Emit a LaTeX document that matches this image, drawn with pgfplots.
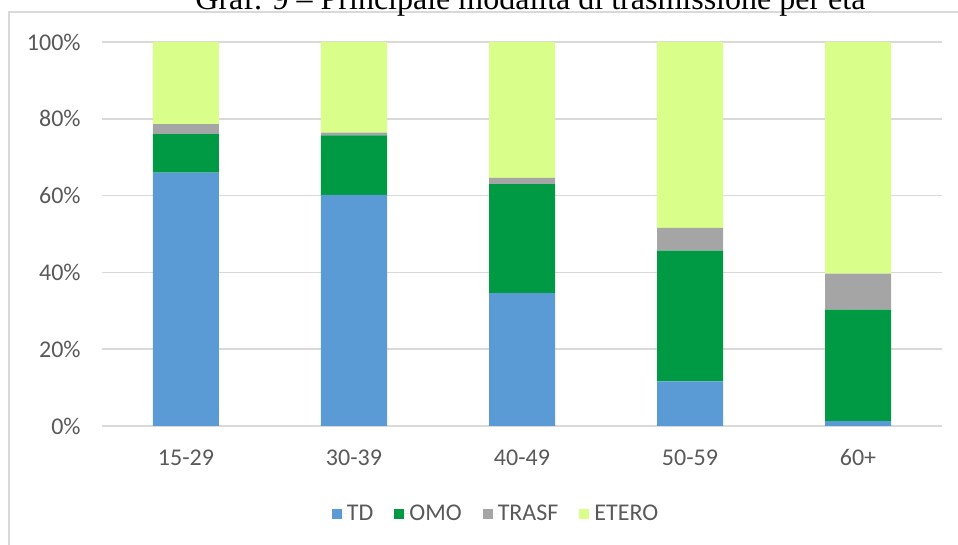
\documentclass[border=0pt]{standalone}
\usepackage{fontspec}
\setmainfont{Carlito}
\newfontfamily\titlefont{Liberation Serif}
\usepackage{pgfplots}
\usepackage{pgfplotstable}
\pgfplotsset{compat=1.18}

\definecolor{cTD}{HTML}{5B9BD5}
\definecolor{cOMO}{HTML}{009944}
\definecolor{cTRASF}{HTML}{A5A5A5}
\definecolor{cETERO}{HTML}{D9FF8A}
\definecolor{gridgray}{HTML}{D9D9D9}
\definecolor{labelgray}{HTML}{595959}

% Share (%) of each transmission mode by age group
\pgfplotstableread{
grp TD   OMO  TRASF ETERO
0   66.0 10.0 2.6   21.4
1   60.2 15.5 0.7   23.6
2   34.6 28.4 1.6   35.4
3   11.6 34.1 5.9   48.4
4   1.3  29.0 9.4   60.3
}\datatable

\begin{document}
\begin{tikzpicture}
\path[use as bounding box] (-51pt,-59.5pt) rectangle (428pt,213pt);
% chart frame
\draw[gridgray, line width=0.75pt] (-46.5pt,-80pt) -- (-46.5pt,207pt) -- (440pt,207pt);
% caption
\node[anchor=base west, inner sep=0pt, font=\titlefont\fontsize{16}{19}\selectfont]
  at (46.5pt,208.25pt) {Graf. 9 – Principale modalità di trasmissione per età};
\begin{axis}[
  at={(0pt,0pt)}, anchor=south west,
  scale only axis, width=420pt, height=192pt,
  ybar stacked, bar width=33pt,
  xmin=-0.5, xmax=4.5, ymin=0, ymax=100,
  xtick={0,1,2,3,4},
  xticklabels={15-29,30-39,40-49,50-59,60+},
  ytick={0,20,40,60,80,100},
  yticklabels={0\%,20\%,40\%,60\%,80\%,100\%},
  axis line style={draw=none},
  major tick length=0pt,
  ymajorgrids, major grid style={gridgray, line width=0.75pt},
  ticklabel style={font=\fontsize{12}{14}\selectfont, text=labelgray},
  yticklabel style={anchor=east, inner sep=0pt, xshift=-10.5pt},
  xticklabel style={anchor=base, inner sep=0pt, yshift=-20pt},
  legend columns=-1,
  legend style={at={(0.468,-0.229)}, anchor=center, draw=none, fill=none,
    font=\fontsize{12}{14}\selectfont, text=labelgray,
    /tikz/every even column/.append style={column sep=10.5pt},
    nodes={inner sep=0pt}},
  legend image code/.code={\fill[#1] (0pt,-2.5pt) rectangle (5pt,2.5pt);
    \path (0pt,0pt) -- (7.5pt,0pt);},
]
\addplot[fill=cTD, draw=none] table[x=grp, y=TD] {\datatable};
\addplot[fill=cOMO, draw=none] table[x=grp, y=OMO] {\datatable};
\addplot[fill=cTRASF, draw=none] table[x=grp, y=TRASF] {\datatable};
\addplot[fill=cETERO, draw=none] table[x=grp, y=ETERO] {\datatable};
\legend{TD,OMO,TRASF,ETERO}
\end{axis}
\end{tikzpicture}
\end{document}
